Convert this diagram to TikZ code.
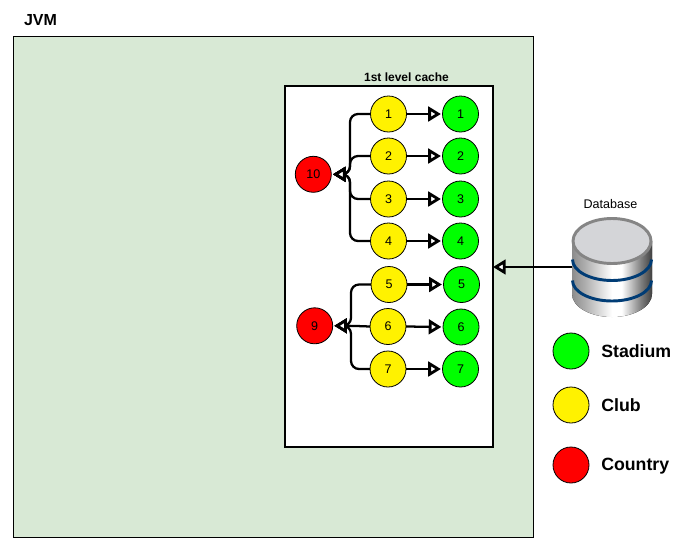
\documentclass[tikz,border=0pt]{standalone}
\usepackage{fontspec}
\setmainfont{Liberation Sans}
\usetikzlibrary{arrows.meta}
\definecolor{jvmfill}{HTML}{D8E9D5}
\definecolor{stad}{HTML}{00FF00}
\definecolor{dbtop}{HTML}{D4D5D8}
\definecolor{dbrim}{HTML}{858585}
\definecolor{dbband}{HTML}{003C75}
\pgfdeclarehorizontalshading{dbshade}{100bp}{
  color(0bp)=(black!45); color(25bp)=(black!45); color(33bp)=(black!32);
  color(50bp)=(white); color(56bp)=(white); color(68bp)=(black!50); color(75bp)=(black!75); color(100bp)=(black!75)}
\tikzset{
  ball/.style={circle,draw=black,line width=0.6pt,minimum size=27pt,inner sep=0pt,outer sep=0pt,font=\fontsize{9.4}{10}\selectfont},
  club/.style={ball,fill=yellow},
  stadium/.style={ball,fill=stad},
  country/.style={ball,fill=red},
  tipped/.style={line width=1.7pt,rounded corners=6pt,-{Triangle[open,fill=white,length=9.5pt,width=11pt,line width=2.1pt]},shorten >=1.2pt},
  legendtext/.style={anchor=base west,inner sep=0pt,font=\bfseries\fontsize{13.3}{15}\selectfont},
  smalltext/.style={inner sep=0pt,font=\fontsize{9.4}{10}\selectfont}
}
\begin{document}
\begin{tikzpicture}[x=0.75pt,y=-0.75pt]
\useasboundingbox (0,0) rectangle (678,550);
% containers
\node[draw=black,line width=0.75pt,fill=jvmfill,minimum width=390pt,minimum height=375.75pt,inner sep=0pt,outer sep=0pt] (jvm) at (273.5,287) {};
\node[draw=black,line width=1.5pt,fill=white,minimum width=156pt,minimum height=270.75pt,inner sep=0pt,outer sep=0pt] (cache) at (389,266.5) {};
\node[inner sep=0pt,font=\bfseries\fontsize{12}{14}\selectfont] (jvmlabel) at (40.5,20) {JVM};
\node[inner sep=0pt,font=\bfseries\fontsize{9}{10}\selectfont] (cachelabel) at (406.5,77) {1st level cache};
% circles
\node[club] (c1) at (388.5,114) {1};
\node[club] (c2) at (388.5,156) {2};
\node[club] (c3) at (388.5,199) {3};
\node[club] (c4) at (388.5,241) {4};
\node[club] (c5) at (389,284.5) {5};
\node[club] (c6) at (388,326.5) {6};
\node[club] (c7) at (388,369) {7};
\node[stadium] (s1) at (460.5,114) {1};
\node[stadium] (s2) at (460.5,156) {2};
\node[stadium] (s3) at (460.5,199) {3};
\node[stadium] (s4) at (460.5,241) {4};
\node[stadium] (s5) at (461.5,284.5) {5};
\node[stadium] (s6) at (461,327) {6};
\node[stadium] (s7) at (460.5,369) {7};
\node[country] (r10) at (313.3,174.3) {10};
\node[country] (r9) at (314.7,325.8) {9};
\coordinate (t10) at (350,174.3);
\coordinate (t9) at (351,325.8);
% connectors
\foreach \i in {1,...,7} \draw[tipped] (c\i.east) -- (s\i.west);
\foreach \i in {1,...,4} \draw[tipped] (c\i.west) -| (t10) -- (r10.east);
\foreach \i in {5,7} \draw[tipped] (c\i.west) -| (t9) -- (r9.east);
\draw[tipped] (c6.west) -- (t9) -- (r9.east);
% database
\fill[shading=dbshade] (572,241) -- (572,294) arc[start angle=180,end angle=0,x radius=40,y radius=23] -- (652,241) -- cycle;
\draw[dbband,line width=2.2pt] (572.5,259.5) arc[start angle=180,end angle=0,x radius=39.5,y radius=21];
\draw[dbband,line width=2.2pt] (572.5,280.5) arc[start angle=180,end angle=0,x radius=39.5,y radius=20.5];
\draw[dbrim,fill=dbtop,line width=2.2pt] (612,241) ellipse[x radius=39,y radius=22.5];
\node[smalltext] (dblabel) at (610.5,204) {Database};
\coordinate (dbport) at (572,267);
\draw[tipped,shorten >=0pt] (dbport) -- (cache.east |- dbport);
% legend
\node[stadium] (l1) at (571,351) {};
\node[club] (l2) at (571,405) {};
\node[country] (l3) at (571,465) {};
\node[legendtext] (t1) at (601,357) {Stadium};
\node[legendtext] (t2) at (601,411) {Club};
\node[legendtext] (t3) at (601,470.7) {Country};
\end{tikzpicture}
\end{document}
